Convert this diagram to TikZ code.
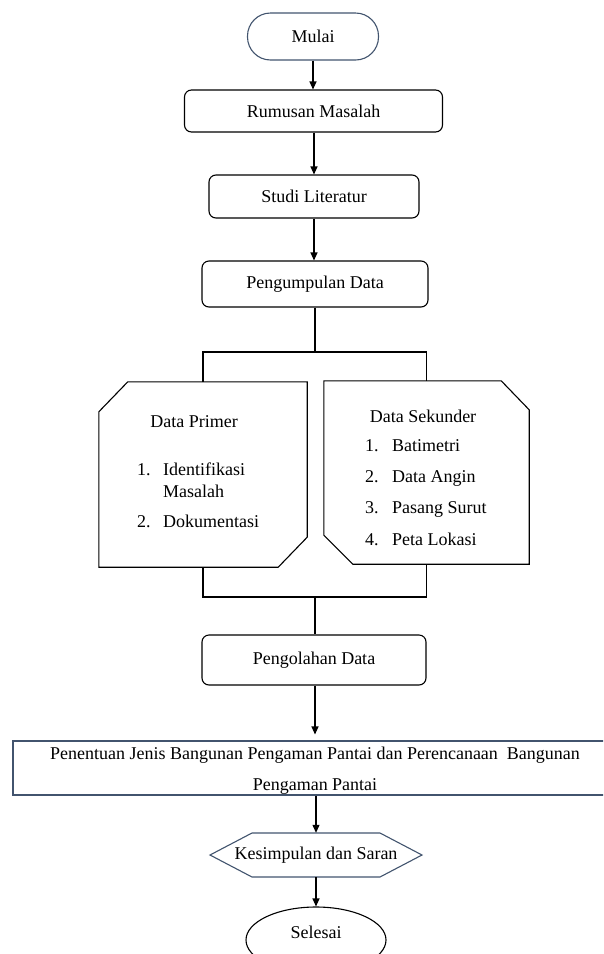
\documentclass[tikz,border=0pt]{standalone}
\usepackage{fontspec}
\setmainfont{Liberation Serif}
\usetikzlibrary{arrows.meta,shapes.geometric,calc}
\definecolor{slate}{HTML}{42546E}
\begin{document}
\begin{tikzpicture}[x=1pt,y=-1pt,
  every node/.style={font=\fontsize{18}{31}\selectfont, inner sep=0pt},
  box/.style={draw=black, line width=1.1pt, rounded corners=7pt},
  conn/.style={line width=1.1pt, draw=black},
  arr/.style={conn, -{Triangle[length=8pt,width=7pt]}},
  lst/.style={anchor=base west},
  ]
\useasboundingbox (0,0) rectangle (603,954);
\clip (0,0) rectangle (603,954);
% main column
\node[draw=slate, line width=1.1pt, rounded corners=23pt, minimum width=131, minimum height=47] (start) at (313,36.5) {Mulai};
\node[box, minimum width=258, minimum height=42] (rum) at (313.5,111) {Rumusan Masalah};
\node[box, minimum width=210, minimum height=43] (stu) at (314,196.5) {Studi Literatur};
\node[box, minimum width=226, minimum height=46] (pen) at (315,284) {Pengumpulan Data};
% data primer
\node[minimum width=208, minimum height=185] (pri) at (203,474.5) {};
\draw[conn] ($(pri.north west)+(29,0)$) -- (pri.north east) -- ($(pri.south east)+(0,-30)$) -- ($(pri.south east)+(-29,0)$) -- (pri.south west) -- ($(pri.north west)+(0,30)$) -- cycle;
\node[anchor=base] (pt) at (194,427) {Data Primer};
\node[lst] (p1n) at (137,475) {1.};
\node[lst] (p1) at (163,475) {Identifikasi};
\node[lst] (p1b) at (163,497) {Masalah};
\node[lst] (p2n) at (137,527) {2.};
\node[lst] (p2) at (163,527) {Dokumentasi};
% data sekunder
\node[minimum width=205, minimum height=183] (sek) at (426.5,472.5) {};
\draw[conn] (sek.north west) -- ($(sek.north east)+(-28,0)$) -- ($(sek.north east)+(0,29)$) -- (sek.south east) -- ($(sek.south west)+(29,0)$) -- ($(sek.south west)+(0,-29)$) -- cycle;
\node[anchor=base] (st) at (423,422) {Data Sekunder};
\node[lst] (s1n) at (365,451) {1.};
\node[lst] (s1) at (392,451) {Batimetri};
\node[lst] (s2n) at (365,482) {2.};
\node[lst] (s2) at (392,482) {Data Angin};
\node[lst] (s3n) at (365,513) {3.};
\node[lst] (s3) at (392,513) {Pasang Surut};
\node[lst] (s4n) at (365,545) {4.};
\node[lst] (s4) at (392,545) {Peta Lokasi};
% lower column
\node[box, minimum width=224, minimum height=50] (olah) at (314,660) {Pengolahan Data};
\node[draw=slate, line width=1.1pt, minimum width=604, minimum height=54] (big) at (315,768) {};
\node[align=center] (bigtxt) at (315,771) {Penentuan Jenis Bangunan Pengaman Pantai dan Perencanaan\hspace{0.5em}Bangunan\\Pengaman Pantai};
\node[minimum width=212, minimum height=44] (kes) at (316,855) {Kesimpulan dan Saran};
\draw[draw=slate, line width=1.1pt] ($(kes.center)+(-106,0)$) -- ($(kes.center)+(-64,-22)$) -- ($(kes.center)+(64,-22)$) -- ($(kes.center)+(106,0)$) -- ($(kes.center)+(64,22)$) -- ($(kes.center)+(-64,22)$) -- cycle;
\node[draw, ellipse, line width=1.1pt, minimum width=140, minimum height=66] (end) at (316,940) {};
\node[anchor=base] (endtxt) at (316,938) {Selesai};
% connectors
\coordinate (j1) at (315,352);
\coordinate (j2) at (315,597);
\draw[arr] (start.south) -- (start.south |- rum.north);
\draw[arr] (rum.south -| stu.north) -- (stu.north);
\draw[arr] (stu.south) -- (stu.south |- pen.north);
\draw[conn] (pen.south) -- (j1);
\draw[conn] (pri.north) |- (j1) -| (sek.north);
\draw[conn] (pri.south) |- (j2) -| (sek.south);
\draw[conn] (j2) -- (j2 |- olah.north);
\draw[arr] (olah.south -| big.center) -- ($(big.north)+(0,-6)$);
\draw[arr] (big.south -| kes.north) -- (kes.north);
\draw[arr] (kes.south) -- (end.north);
\end{tikzpicture}
\end{document}
